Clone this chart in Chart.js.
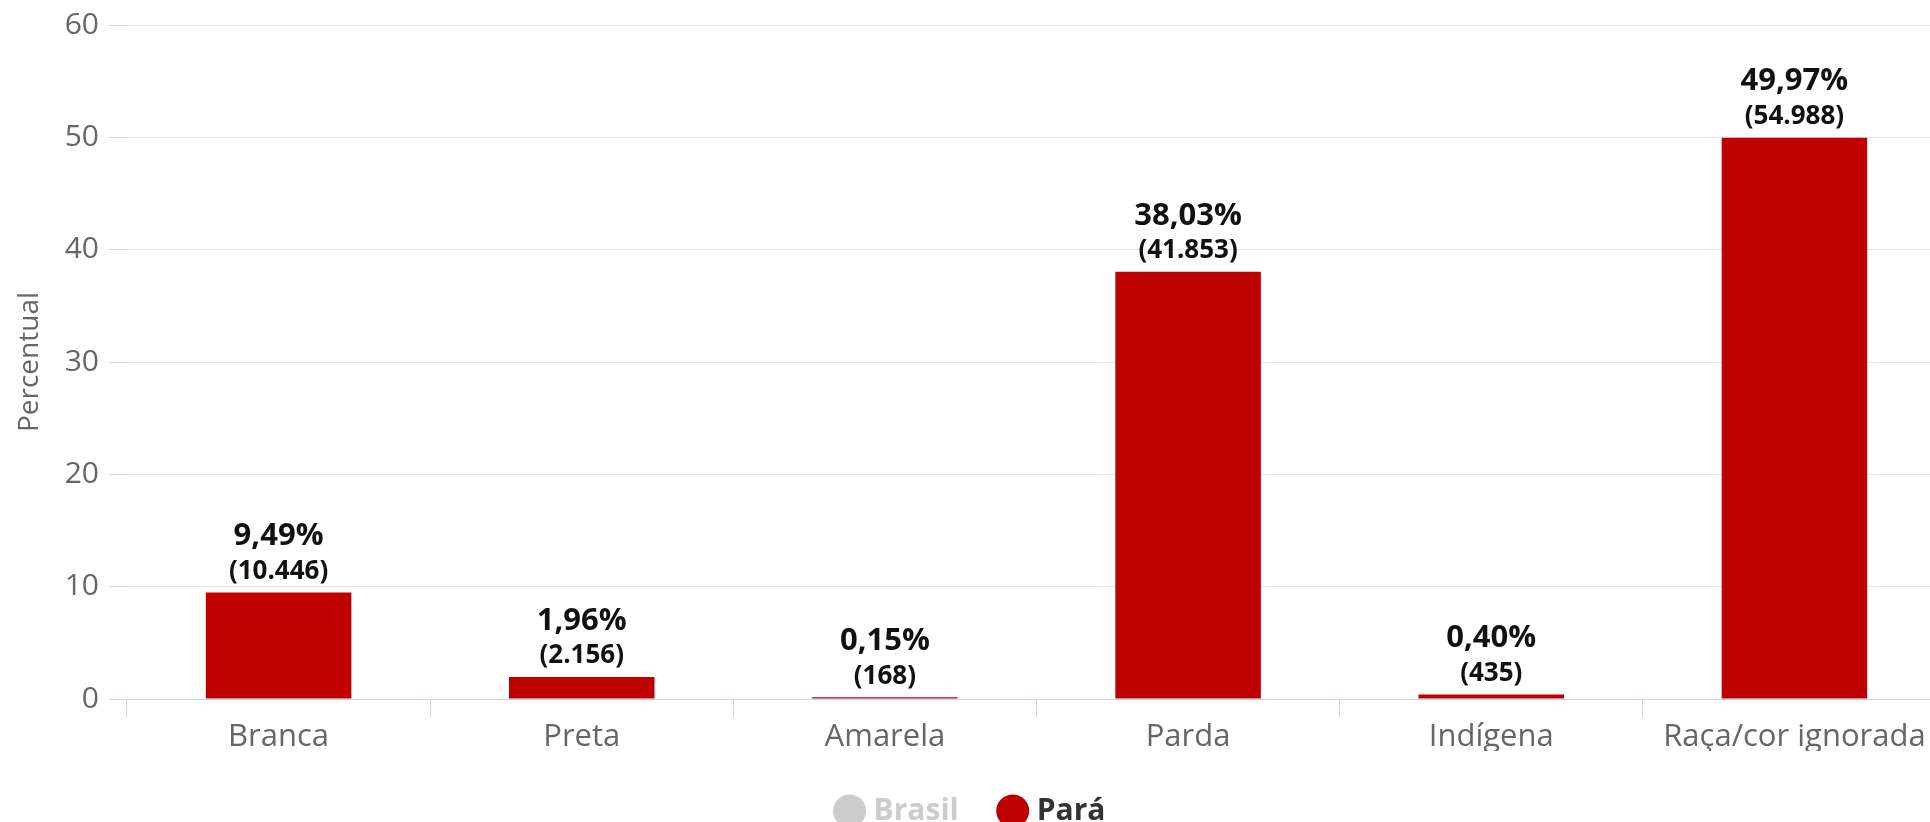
<!DOCTYPE html>
<html lang="pt-br">
<head>
    <meta charset="UTF-8" />
    <title>Raça/cor - Pará</title>
    <script src="https://cdn.jsdelivr.net/npm/chart.js"></script>
    <style>
        html, body { margin: 0; padding: 0; background: #fff; overflow: hidden; }
        .grafico { width: 1952px; height: 836px; position: relative; }
    </style>
</head>
<body>
    <div class="grafico">
        <canvas id="graficoRaca"></canvas>
    </div>

    <script>
        // dados
        const categorias = ['Branca', 'Preta', 'Amarela', 'Parda', 'Indígena', 'Raça/cor ignorada'];
        const percentuaisPara = [9.49, 1.96, 0.15, 38.03, 0.40, 49.97];
        const casosPara = [10446, 2156, 168, 41853, 435, 54988];
        const percentuaisBrasil = [];   // serie desligada na legenda
        const ticksY = [0, 10, 20, 30, 40, 50, 60];

        const fonte = '"Open Sans", sans-serif';

        function formatarPct(v) {
            return v.toFixed(2).replace('.', ',') + '%';
        }
        function formatarNum(v) {
            return String(v).replace(/\B(?=(\d{3})+(?!\d))/g, '.');
        }

        // rotulos em cima das barras
        const rotulos = {
            id: 'rotulos',
            afterDatasetsDraw(chart) {
                const meta = chart.getDatasetMeta(1);
                if (meta.hidden) return;
                const ctx = chart.ctx;
                ctx.save();
                ctx.textAlign = 'center';
                ctx.textBaseline = 'middle';
                ctx.fillStyle = '#111';
                meta.data.forEach((barra, i) => {
                    ctx.font = 'bold 31px ' + fonte;
                    ctx.fillText(formatarPct(percentuaisPara[i]), barra.x, barra.y - 56);
                    ctx.font = 'bold 26px ' + fonte;
                    ctx.fillText('(' + formatarNum(casosPara[i]) + ')', barra.x, barra.y - 21);
                });
                ctx.restore();
            }
        };

        const ctx = document.getElementById('graficoRaca').getContext('2d');

        const graficoRaca = new Chart(ctx, {
            type: 'bar',
            data: {
                labels: categorias,
                datasets: [{
                    label: 'Brasil',
                    data: percentuaisBrasil,
                    backgroundColor: '#cccccc',
                    hidden: true
                }, {
                    label: 'Pará',
                    data: percentuaisPara,
                    backgroundColor: '#be0000',
                    categoryPercentage: 1,
                    barPercentage: 0.48
                }]
            },
            options: {
                responsive: true,
                maintainAspectRatio: false,
                animation: false,
                layout: {
                    padding: { top: 4, right: 6, left: 0, bottom: 0 }
                },
                plugins: {
                    tooltip: { enabled: false },
                    legend: {
                        position: 'bottom',
                        labels: {
                            usePointStyle: true,
                            pointStyle: 'circle',
                            boxWidth: 18,
                            boxHeight: 23.3,
                            padding: 45,
                            font: { family: fonte, size: 30, weight: 'bold' },
                            generateLabels(chart) {
                                return chart.data.datasets.map((ds, i) => ({
                                    text: ds.label,
                                    fillStyle: ds.backgroundColor,
                                    strokeStyle: ds.backgroundColor,
                                    lineWidth: 0,
                                    pointStyle: 'circle',
                                    hidden: false,
                                    fontColor: ds.hidden ? '#cccccc' : '#333333',
                                    datasetIndex: i
                                }));
                            }
                        }
                    }
                },
                scales: {
                    x: {
                        afterFit(scale) { scale.height = 52; },
                        grid: {
                            drawOnChartArea: false,
                            drawTicks: true,
                            tickLength: 18,
                            tickColor: '#ccd6eb',
                            offset: true
                        },
                        border: { color: '#ccd6eb', width: 1 },
                        ticks: {
                            color: '#666666',
                            padding: 2,
                            font: { family: fonte, size: 31 }
                        }
                    },
                    y: {
                        min: ticksY[0],
                        max: ticksY[ticksY.length - 1],
                        afterFit(scale) { scale.width = 127; },
                        afterBuildTicks(scale) {
                            scale.ticks = ticksY.map(v => ({ value: v }));
                        },
                        grid: {
                            color: '#e6e6e6',
                            tickLength: 18,
                            tickColor: '#ccd6eb'
                        },
                        border: { display: false },
                        ticks: {
                            color: '#666666',
                            padding: 10,
                            font: { family: fonte, size: 30, lineHeight: 1 }
                        },
                        title: {
                            display: true,
                            text: 'Percentual',
                            color: '#666666',
                            padding: { top: 13 },
                            font: { family: fonte, size: 28 }
                        }
                    }
                }
            },
            plugins: [rotulos]
        });
    </script>
</body>
</html>
